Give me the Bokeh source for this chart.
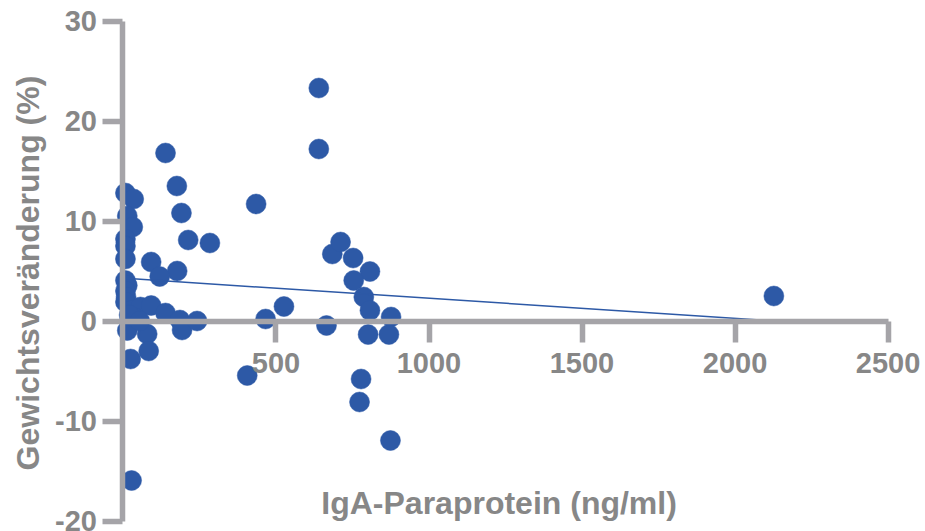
import math
from bokeh.plotting import figure
from bokeh.models import Range1d, FixedTicker, Label, ColumnDataSource
from bokeh.embed import file_html
from bokeh.resources import INLINE

# ---- data ----
iga_ng_ml = [640, 640, 139, 176, 8, 35, 435, 191, 14, 32,
             213, 284, 8, 8, 8, 92, 177, 120, 8, 14,
             8, 10, 8, 25, 57, 92, 139, 186, 193, 242,
             14, 79, 84, 25, 28, 406, 466, 526, 665, 684,
             711, 752, 807, 754, 787, 807, 876, 801, 869, 778,
             773, 874, 2127, 40, 20, 55]
weight_change_pct = [23.3, 17.2, 16.8, 13.5, 12.8, 12.2, 11.7, 10.8, 10.5, 9.4,
                     8.1, 7.8, 8.2, 7.5, 6.2, 5.9, 5.0, 4.45, 4.05, 3.55,
                     3.0, 2.4, 1.9, 1.05, 1.4, 1.55, 0.8, 0.1, -0.9, 0.0,
                     -0.95, -1.3, -3.0, -3.8, -15.95, -5.45, 0.2, 1.45, -0.45, 6.7,
                     7.9, 6.3, 4.95, 4.05, 2.4, 1.05, 0.4, -1.35, -1.35, -5.8,
                     -8.1, -11.95, 2.5, 0.3, 0.6, 0.0]

# linear fit line
fit_intercept = 4.28
fit_slope = -0.00201

x_ticks = [500, 1000, 1500, 2000, 2500]
y_ticks = [-20, -10, 0, 10, 20, 30]
y_tick_labels = ["-20", "-10", "0", "10", "20", "30"]
x_label = "IgA-Paraprotein (ng/ml)"
y_label = "Gewichtsveränderung (%)"

BLUE = "#2D59A6"
AXIS_GRAY = "#A5A4A8"
TEXT_GRAY = "#878787"
FONT = "Liberation Sans"

p = figure(width=925, height=531,
           x_range=Range1d(-400.3, 2622.5), y_range=Range1d(-21.05, 32.05),
           output_backend="svg", toolbar_location=None,
           min_border_left=0, min_border_right=0,
           min_border_top=0, min_border_bottom=0)
p.outline_line_color = None
p.xgrid.visible = False
p.ygrid.visible = False
p.background_fill_color = "white"
p.border_fill_color = "white"

for ax, ticks, bnds in ((p.xaxis, x_ticks, (0, 2500)), (p.yaxis, y_ticks, (-20, 30))):
    ax.fixed_location = 0
    ax.bounds = bnds
    ax.ticker = FixedTicker(ticks=ticks)
    ax.axis_line_color = AXIS_GRAY
    ax.axis_line_width = 5.5
    ax.axis_line_cap = "butt"
    ax.major_tick_line_color = AXIS_GRAY
    ax.major_tick_line_width = 5.5
    ax.major_tick_in = 0
    ax.minor_tick_line_color = None
    ax.major_label_text_font = FONT
    ax.major_label_text_font_style = "bold"
    ax.major_label_text_font_size = "29px"
    ax.major_label_text_color = TEXT_GRAY

p.yaxis.major_label_overrides = {t: s for t, s in zip(y_ticks, y_tick_labels)}
p.yaxis.major_tick_out = 20
p.yaxis.major_label_standoff = 6
p.xaxis.major_tick_out = 21
p.xaxis.major_label_standoff = 11

src = ColumnDataSource(data=dict(x=iga_ng_ml, y=weight_change_pct))
p.scatter("x", "y", source=src, size=20, fill_color=BLUE, line_color=BLUE,
          line_width=0.5)

fx = [min(iga_ng_ml), max(iga_ng_ml)]
fy = [fit_intercept + fit_slope * v for v in fx]
p.line(fx, fy, line_color=BLUE, line_width=1.5)

p.add_layout(Label(x=1229, y=-18.2, text=x_label, text_align="center",
                   text_baseline="alphabetic", text_font=FONT,
                   text_font_style="bold", text_font_size="32px",
                   text_color=TEXT_GRAY))
p.add_layout(Label(x=-310, y=4.8, text=y_label, angle=math.pi / 2,
                   text_align="center", text_baseline="alphabetic",
                   text_font=FONT, text_font_style="bold",
                   text_font_size="32px", text_color=TEXT_GRAY))

open("out.html", "w").write(file_html(p, INLINE))
